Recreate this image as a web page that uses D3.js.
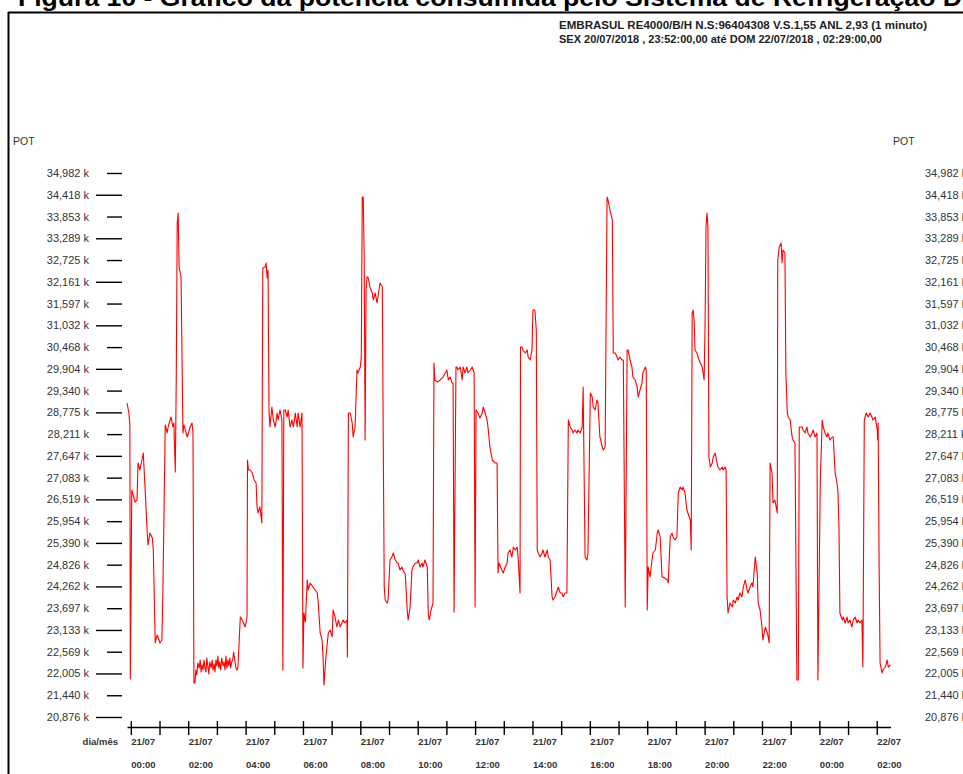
<!DOCTYPE html>
<html><head><meta charset="utf-8">
<script src="https://cdn.jsdelivr.net/npm/d3@7/dist/d3.min.js"></script>
<style>html,body{margin:0;padding:0;background:#fff;overflow:hidden}svg{display:block}</style>
</head><body>
<script>
// ---- DATA ----
const titleText = "Figura 10 - Gráfico da potência consumida pelo Sistema de Refrigeração D";
const headerLines = [
  "EMBRASUL RE4000/B/H N.S:96404308  V.S.1,55 ANL 2,93 (1 minuto)",
  "SEX 20/07/2018 , 23:52:00,00 até DOM 22/07/2018 , 02:29:00,00"
];
const yAxisTitle = "POT";
const xAxisTitle = "dia/mês";
const yTickValues = [34.982,34.418,33.853,33.289,32.725,32.161,31.597,31.032,30.468,29.904,29.340,28.775,28.211,27.647,27.083,26.519,25.954,25.390,24.826,24.262,23.697,23.133,22.569,22.005,21.440,20.876];
const startTime = new Date(2018,6,20,23,52);
const endTime = new Date(2018,6,22,2,29);
// minutes since 21/07/2018 00:00
const minutes = [-8,-4,-2,-1,2,9,13,15,19,24,26,30,34,36,40,45,47,49,51,55,61,65,67,72,76,78,84,88,90,93,95,97,99,101,105,107,109,111,118,124,128,130,132,
134,136,138,140,143,145,147,149,151,153,155,157,159,161,163,165,168,170,172,174,176,178,180,182,184,186,188,190,193,195,197,199,201,203,205,207,209,211,213,215,218,220,222,
224,229,233,239,243,244,246,250,254,258,262,264,266,270,274,276,281,283,285,287,289,291,295,298,302,306,308,312,316,318,320,323,327,329,333,337,340,344,348,350,354,358,360,
362,365,369,371,375,381,390,392,396,400,402,404,408,413,417,421,423,427,431,434,438,444,448,452,453,455,459,463,465,469,473,475,480,482,484,486,488,490,492,494,496,500,505,507,511,515,517,521,526,528,
530,532,536,538,542,546,549,553,557,559,563,567,569,574,578,580,584,588,590,595,599,601,605,609,611,615,620,622,624,628,632,634,636,641,647,653,661,664,668,672,674,676,680,682,684,689,693,695,699,703,705,710,714,716,718,720,
722,726,730,735,737,741,745,747,751,756,762,766,768,770,776,779,783,787,789,793,797,800,804,808,810,814,815,818,820,825,829,831,835,839,841,845,848,850,852,856,860,862,866,871,873,877,881,883,887,892,894,898,902,904,908,912,
915,919,923,925,929,933,935,940,944,946,950,954,956,961,965,967,971,975,977,981,986,988,992,996,998,1002,1007,1009,1013,1017,1019,1023,1027,1030,1034,1038,1040,1044,1048,1050,1055,1059,1061,1065,1069,1071,1076,1078,
1080,1082,1086,1090,1092,1097,1101,1103,1107,1111,1113,1122,1124,1128,1132,1134,1138,1142,1145,1149,1153,1155,1159,1163,1165,1170,1172,1174,1176,1178,1180,1184,1186,1191,1195,1197,1199,1201,1203,1205,1207,
1209,1212,1216,1218,1222,1226,1228,1232,1237,1239,1243,1245,1247,1249,1253,1258,1260,1264,1268,1270,1274,1278,1281,1285,1289,1291,1295,1299,1301,1306,1310,1312,1316,1320,1322,1327,1331,1333,1335,
1337,1341,1343,1347,1352,1353,1356,1360,1362,1364,1368,1370,1373,1375,1379,1383,1385,1389,1393,1396,1398,1404,1406,1410,1414,1416,1421,1425,1427,1431,1435,1437,1442,1446,1448,1452,1456,1458,1462,1467,1469,
1473,1477,1479,1481,1483,1488,1490,1494,1498,1500,1504,1508,1511,1515,1519,1521,1525,1529,1531,1534,1538,1542,1546,1550,1552,1557,1561,1562,1563,1565,1567,1571,1573,1578,1582,1584,1589];
// power in k (thousands)
const pot = [29.018,28.759,28.448,21.861,26.762,26.451,26.503,27.462,27.281,27.592,27.722,26.762,25.725,25.336,25.647,25.518,25.206,24.040,22.795,23.003,22.795,22.873,24.091,28.448,28.240,28.396,28.655,28.396,28.500,27.229,29.615,33.686,33.945,32.545,32.285,30.315,28.240,28.448,28.137,28.396,28.500,28.240,21.758,
21.758,22.095,21.965,22.277,22.147,22.355,22.043,22.225,22.095,22.355,22.147,22.043,22.406,22.199,21.991,22.303,22.147,22.355,22.095,22.251,22.043,22.355,22.199,22.458,22.147,22.303,22.095,22.406,22.199,22.303,22.095,22.458,22.147,22.355,22.199,22.406,22.147,22.303,22.355,22.562,22.303,22.147,22.095,
22.173,23.469,23.391,23.210,23.469,27.540,27.281,27.281,27.203,27.022,26.944,26.321,26.166,26.321,25.907,32.519,32.545,32.648,32.259,32.467,28.837,28.396,28.914,28.577,28.396,28.759,28.577,28.837,28.577,22.095,28.837,28.837,28.655,28.837,28.396,28.577,28.396,28.759,28.396,28.759,28.396,28.759,22.147,
23.573,23.340,24.429,24.169,24.351,24.247,24.091,23.832,23.055,22.873,22.432,21.706,22.432,23.055,23.132,22.951,23.651,23.469,23.210,23.391,23.210,23.391,23.314,23.391,22.432,28.759,28.759,28.500,28.137,28.396,29.874,29.796,29.952,30.211,34.360,34.360,32.908,28.059,31.948,32.285,32.285,32.026,31.870,31.689,31.870,31.611,31.767,32.130,32.026,27.877,
24.247,23.910,23.832,23.910,24.947,25.025,25.129,24.947,24.869,24.869,24.688,24.765,24.688,24.584,23.651,23.391,23.729,24.688,24.765,24.869,24.869,24.947,24.765,24.869,24.765,24.947,24.765,23.573,23.391,23.651,23.832,30.055,29.615,29.563,29.615,29.692,29.874,29.615,29.692,29.537,29.537,23.599,29.952,29.952,29.874,29.952,29.615,29.952,29.796,29.952,29.796,29.874,29.952,29.874,29.796,23.729,
28.837,28.759,28.629,28.759,28.914,28.759,28.577,28.396,27.877,27.540,27.462,27.462,24.610,24.869,24.688,24.610,24.765,24.869,25.129,25.206,25.025,25.284,25.206,25.284,25.025,24.091,30.470,30.470,30.393,30.315,30.393,30.211,30.133,30.393,31.430,31.430,30.911,25.206,25.129,25.025,25.129,25.206,25.025,25.206,25.025,24.947,23.988,23.910,23.988,24.169,24.247,24.091,24.091,23.988,24.091,24.091,
28.577,28.396,28.318,28.240,28.318,28.240,28.318,28.240,28.396,29.433,25.025,24.947,25.129,29.277,29.174,28.914,28.837,29.096,29.018,28.137,27.877,27.800,27.877,34.360,34.282,34.023,33.763,30.315,30.315,30.211,30.133,30.211,30.133,30.133,23.729,30.393,30.393,30.133,29.952,29.692,29.615,29.433,29.174,29.355,29.537,29.796,29.952,29.874,
23.651,24.765,24.506,24.947,25.129,25.206,25.647,25.725,25.544,24.506,24.506,24.429,24.351,25.544,25.647,25.544,25.466,25.544,26.684,26.840,26.762,26.840,26.684,26.244,26.166,25.984,25.206,31.352,31.430,31.170,30.393,30.315,30.211,30.055,29.952,29.796,29.615,31.093,33.582,33.945,33.582,
27.618,27.358,27.462,27.618,27.722,27.462,27.358,27.281,27.358,27.281,27.358,27.281,23.988,23.573,23.832,23.729,23.910,23.832,23.988,23.910,24.091,23.988,24.247,24.429,24.169,24.091,24.247,24.351,24.247,25.025,24.610,23.832,23.651,23.210,22.873,23.210,23.055,22.951,22.795,
27.462,27.203,26.425,26.503,26.166,32.726,33.063,33.167,32.648,32.985,32.908,29.796,28.759,28.655,28.577,28.137,28.059,27.981,21.836,21.836,28.396,28.396,28.318,28.240,28.396,28.240,28.137,28.240,28.318,28.137,28.240,21.836,27.022,28.577,28.396,28.240,28.137,28.240,28.059,28.137,28.137,
27.203,26.944,26.684,25.803,23.573,23.391,23.469,23.314,23.469,23.314,23.391,23.210,23.391,23.469,23.314,23.391,23.314,23.391,22.173,28.577,28.759,28.655,28.759,28.655,28.577,28.655,28.318,28.059,28.500,24.765,22.277,22.018,22.095,22.173,22.355,22.173,22.225];

// ---- CHART ----
const W = 963, H = 774;
const svg = d3.select("body").append("svg").attr("width", W).attr("height", H);
const FONT = "Arial, 'Liberation Sans', Helvetica, sans-serif";

// title (clipped at top)
svg.append("text").attr("x", 18).attr("y", 6)
  .attr("font-family", FONT).attr("font-weight", "bold").attr("font-size", 23)
  .attr("textLength", 944).attr("lengthAdjust", "spacingAndGlyphs")
  .attr("fill", "#000").text(titleText);

// frame
svg.append("line").attr("x1", 8).attr("x2", W + 5).attr("y1", 12.5).attr("y2", 12.5).attr("stroke", "#000").attr("stroke-width", 2);
svg.append("line").attr("x1", 8.5).attr("x2", 8.5).attr("y1", 12).attr("y2", H + 5).attr("stroke", "#000").attr("stroke-width", 2);

// header
const hdrLen = [368, 323];
headerLines.forEach((t, i) => {
  svg.append("text").attr("x", 559).attr("y", 29 + i * 13.5)
    .attr("font-family", FONT).attr("font-weight", "bold").attr("font-size", 10.5)
    .attr("textLength", hdrLen[i]).attr("lengthAdjust", "spacingAndGlyphs")
    .attr("fill", "#222").text(t);
});

// scales
const x = d3.scaleTime().domain([startTime, endTime]).range([127, 890.6]);
const y = d3.scaleLinear().domain([yTickValues[yTickValues.length - 1], yTickValues[0]]).range([717, 173]);
const fmt = v => d3.format(".3f")(v).replace(".", ",") + " k";

// left axis
const gl = svg.append("g").attr("transform", "translate(122,0)")
  .call(d3.axisLeft(y).tickValues(yTickValues).tickSize(15).tickPadding(18).tickFormat(fmt));
gl.select(".domain").remove();
gl.selectAll(".tick line").attr("stroke", "#000").attr("stroke-width", 1.4)
  .attr("x2", (d, i) => i % 2 === 1 ? -26 : -15);
gl.selectAll(".tick text").attr("font-family", FONT).attr("font-size", 11).attr("fill", "#333");

// right axis (labels only)
const gr = svg.append("g").attr("transform", "translate(925,0)")
  .call(d3.axisRight(y).tickValues(yTickValues).tickSize(0).tickPadding(0).tickFormat(fmt));
gr.select(".domain").remove();
gr.selectAll(".tick text").attr("font-family", FONT).attr("font-size", 11).attr("fill", "#333");

// axis titles
svg.append("text").attr("x", 13).attr("y", 144.5).attr("font-family", FONT).attr("font-size", 10.5).attr("fill", "#333").text(yAxisTitle);
svg.append("text").attr("x", 893).attr("y", 144.5).attr("font-family", FONT).attr("font-size", 10.5).attr("fill", "#333").text(yAxisTitle);

// bottom axis
const hours = d3.timeHour.every(1).range(startTime, endTime);
const gb = svg.append("g").attr("transform", "translate(0,727)")
  .call(d3.axisBottom(x).tickValues(hours).tickSizeInner(8).tickSizeOuter(0).tickFormat(""));
gb.select(".domain").attr("stroke", "#000").attr("stroke-width", 1.4);
gb.selectAll(".tick line").attr("stroke", "#000").attr("stroke-width", 1.4).attr("y1", -6);

const labelHours = hours.filter(d => d.getHours() % 2 === 0);
const fDay = d3.timeFormat("%d/%m"), fHour = d3.timeFormat("%H:%M");
const lab = svg.append("g").attr("font-family", FONT).attr("font-weight", "bold").attr("font-size", 9.5).attr("fill", "#333");
lab.selectAll("text.d").data(labelHours).join("text").attr("class", "d")
  .attr("x", d => x(d) + 0.5).attr("y", 745).text(d => fDay(d));
lab.selectAll("text.h").data(labelHours).join("text").attr("class", "h")
  .attr("x", d => x(d) + 0.5).attr("y", 768).text(d => fHour(d));
lab.append("text").attr("x", 118).attr("y", 745).attr("text-anchor", "end").text(xAxisTitle);

// series
const base = new Date(2018, 6, 21, 0, 0);
const data = minutes.map((m, i) => ({ t: d3.timeMinute.offset(base, m), v: pot[i] }));
svg.append("path").datum(data)
  .attr("fill", "none").attr("stroke", "#ff0000").attr("stroke-width", 1.1)
  .attr("stroke-linejoin", "round")
  .attr("d", d3.line().x(d => x(d.t)).y(d => y(d.v)));
</script>
</body></html>
